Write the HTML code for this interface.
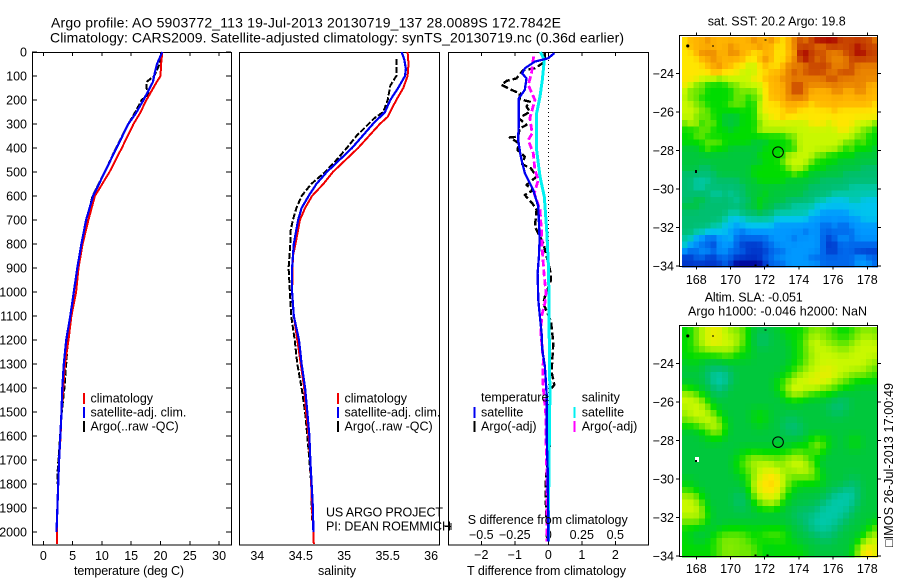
<!DOCTYPE html>
<html lang="en">
<head>
<meta charset="utf-8">
<title>Argo profile</title>
<style>
html,body{margin:0;padding:0;background:#fff;}
svg{display:block;}
text{font-family:"Liberation Sans",sans-serif;font-size:12.5px;fill:#000;}
</style>
</head>
<body>
<svg id="chart" xmlns="http://www.w3.org/2000/svg" width="900" height="580" viewBox="0 0 900 580"></svg>
<script>
// ---- profile data ----
const depthTicks = [0,100,200,300,400,500,600,700,800,900,1000,1100,1200,1300,1400,1500,1600,1700,1800,1900,2000];
const tempTicks = [0,5,10,15,20,25,30];
const salTicks = [34,34.5,35,35.5,36];
const salTickLabels = ["34","34.5","35","35.5","36"];
const tDiffTicks = [-2,-1,0,1,2];
const tDiffLabels = ["−2","−1","0","1","2"];
const sDiffTicks = [-0.5,-0.25,0,0.25,0.5];
const sDiffLabels = ["−0.5","−0.25","0","0.25","0.5"];

const tempClimDepth = [0,50,100,125,200,255,300,400,500,600,700,800,900,1000,1100,1200,1300,1400,1500,1600,1700,1800,1900,2000,2050];
const tempClim = [20.3,20.1,20,19.35,17.6,16.5,15.4,13.4,11.3,8.8,7.7,6.7,6.0,5.6,4.8,4.3,3.7,3.4,3.1,2.95,2.7,2.55,2.4,2.3,2.3];
const tempSatDepth = [0,50,100,125,200,255,300,400,500,600,700,800,900,1000,1100,1200,1300,1400,1500,1600,1700,1800,1900,2000];
const tempSat = [20.3,19.4,18.9,18.7,17.1,15.8,14.5,12.5,10.5,8.5,7.3,6.5,5.8,5.2,4.6,3.9,3.5,3.25,3.1,2.9,2.7,2.55,2.4,2.25];
const tempArgoDepth = [20,60,100,125,150,175,200,250,300,400,500,600,700,800,900,1000,1100,1200,1300,1400,1500,1760,1800];
const tempArgo = [20,19.7,18.9,17.6,17.6,18,16.8,15.7,14.5,12.4,10.5,8.4,7.4,6.5,5.8,5.6,4.8,4.2,3.9,3.6,3.15,2.4,2.4];

const salClimDepth = [0,50,100,150,200,270,300,400,500,550,600,650,700,800,850,1000,1100,1200,1300,1400,1500,1600,1700,1800,1900,2000,2050];
const salClim = [35.73,35.74,35.73,35.68,35.6,35.5,35.41,35.16,34.87,34.76,34.63,34.55,34.49,34.44,34.41,34.4,34.42,34.46,34.5,34.54,34.56,34.59,34.61,34.62,34.63,34.645,34.65];
const salSatDepth = [0,30,70,100,150,200,250,300,400,500,550,600,650,700,800,900,1000,1100,1200,1300,1400,1500,1600,1700,1800,1900,2000];
const salSat = [35.66,35.69,35.71,35.7,35.62,35.53,35.47,35.33,35.09,34.8,34.68,34.59,34.51,34.47,34.42,34.4,34.4,34.42,34.48,34.51,34.55,34.575,34.6,34.61,34.625,34.64,34.645];
const salArgoDepth = [30,60,100,140,200,250,275,300,350,400,450,500,550,600,650,700,750,800,900,1000,1100,1200,1300,1400,1500,1600,1700,1800,1950];
const salArgo = [35.6,35.6,35.6,35.53,35.5,35.45,35.35,35.28,35.14,35.03,34.91,34.78,34.62,34.51,34.45,34.41,34.38,34.38,34.36,34.375,34.39,34.43,34.46,34.51,34.55,34.575,34.6,34.62,34.63];

const dTSatDepth = [5,26,40,68,89,110,158,193,297,367,436,505,575,644,783,853,922,1033,1102,1172,1241,1311,1422,1589,1728,1978,2040];
const dTSat = [0.18,0,-0.4,-0.7,-0.78,-0.65,-0.7,-0.88,-0.88,-0.9,-0.82,-0.7,-0.45,-0.3,-0.26,-0.28,-0.32,-0.3,-0.25,-0.2,-0.18,-0.1,-0.05,-0.05,-0.02,0,0];
const dTArgoDepth = [5,40,68,75,110,120,137,158,172,197,207,228,249,276,304,318,353,356,380,408,436,467,485,519,554,575,596,630,658,728,769,797,908,950,1019,1047,1123,1213,1283,1332,1387,1408,1630,1783,1866,1908,1950];
const dTArgo = [-0.1,-0.1,-0.4,-0.75,-0.95,-1.24,-1.4,-1.1,-0.85,-0.85,-0.55,-0.65,-0.55,-0.88,-0.65,-0.85,-0.9,-1.15,-0.88,-0.92,-0.7,-0.78,-0.52,-0.35,-0.65,-0.45,-0.7,-0.48,-0.35,-0.4,-0.25,-0.15,0.05,0.08,-0.1,-0.15,0.08,0.15,0.12,0.1,0.18,0.05,0.05,-0.08,-0.08,-0.06,-0.06];
const dSSatDepth = [0,33,117,186,256,408,519,603,742,880,1061,1172,1422,1728,1978,2040];
const dSSat = [-0.06,-0.03,-0.045,-0.062,-0.087,-0.087,-0.062,-0.03,-0.012,0,0.007,0.007,0.012,0.005,0,0];
const dSArgoDepth = [19,89,137,200,276,339,367,422,492,533,589,658,755,825,922,1005,1047,1102,1172,1283,1346,1401,1519,1630,1728,1980,2040];
const dSArgo = [-0.11,-0.125,-0.15,-0.1,-0.137,-0.12,-0.15,-0.112,-0.1,-0.075,-0.105,-0.062,-0.05,-0.045,-0.032,-0.017,-0.025,-0.05,-0.055,-0.037,-0.042,-0.037,-0.017,-0.017,-0.012,-0.012,-0.012];

// ---- map data (colour level per grid cell, 0 = coldest/lowest, 15 = warmest/highest) ----
const mapLonTicks = [168,170,172,174,176,178];
const sstLatTicks = [-24,-26,-28,-30,-32,-34];
const sstLevels = [
[11,12,12,12,13,12,12,12,12,12,12,12,13,12,12,13,12,11,12,13,14,13,14,15,15,15,15,14,14,14,14,14,14,13],
[11,12,12,12,12,12,12,12,13,12,12,12,12,13,12,12,11,11,12,13,14,14,14,13,13,14,14,14,14,14,15,14,14,14],
[11,11,12,13,13,13,12,12,13,13,12,12,11,11,12,12,11,11,12,12,15,15,14,14,14,13,13,13,14,14,15,15,14,14],
[11,11,11,12,12,13,12,12,12,12,12,11,11,12,13,12,11,11,12,13,14,15,14,13,14,13,13,13,13,14,14,14,14,14],
[11,11,11,11,12,12,13,12,12,11,11,10,10,11,12,11,11,12,13,13,13,13,14,14,14,14,13,13,13,14,13,13,13,13],
[11,11,11,11,11,12,12,11,11,11,10,10,10,11,11,12,12,12,13,14,13,14,14,14,14,13,13,14,14,14,13,13,13,13],
[11,11,11,10,10,10,9,10,10,10,10,10,11,11,12,12,12,13,13,13,13,13,13,13,13,14,14,13,13,13,13,13,13,13],
[11,10,9,9,8,8,8,8,9,9,10,10,10,10,11,12,12,12,13,14,14,13,13,13,13,13,13,13,13,13,13,13,12,12],
[10,9,9,9,8,8,8,8,8,9,9,9,9,10,11,12,12,12,13,14,14,13,12,12,12,12,13,13,12,12,13,13,12,12],
[10,9,9,8,8,8,8,8,8,9,9,8,9,9,11,12,12,12,13,13,13,13,12,12,12,12,12,12,12,12,12,12,12,12],
[10,10,9,9,8,8,8,8,9,9,9,8,8,10,11,11,11,12,12,12,12,12,11,12,12,12,12,12,12,12,12,12,12,11],
[10,10,10,9,9,8,8,8,8,8,8,8,8,10,11,11,11,11,12,12,11,11,11,11,11,11,12,11,11,11,11,11,11,11],
[10,10,9,9,9,8,8,7,7,7,8,8,8,10,10,11,11,12,11,11,11,11,11,11,11,11,11,11,11,11,11,11,11,11],
[9,10,10,8,9,9,8,7,7,7,8,8,8,9,10,10,10,10,10,10,10,10,11,11,11,10,11,11,11,11,10,10,10,9],
[8,8,8,9,9,8,8,8,7,8,8,8,8,10,10,10,10,10,10,10,10,10,10,10,10,10,10,11,11,10,10,9,9,8],
[8,8,9,9,8,8,8,8,8,8,8,8,8,8,8,8,8,8,9,9,10,10,10,10,10,10,10,10,10,10,9,9,8,8],
[8,8,8,8,9,9,9,8,8,8,8,8,7,7,7,8,8,8,8,9,10,10,10,10,10,10,10,10,9,9,8,9,8,8],
[7,7,7,8,9,8,8,8,7,7,7,7,7,7,8,8,8,8,8,8,10,10,10,10,10,10,10,9,8,9,8,8,8,7],
[7,7,7,7,7,7,7,7,7,7,7,7,7,8,8,8,8,8,10,10,10,10,10,9,9,8,8,8,8,8,7,7,7,7],
[7,7,7,7,7,7,7,7,7,7,7,7,7,7,8,8,8,9,10,10,10,10,9,8,8,8,8,7,7,7,7,7,7,7],
[7,7,7,6,6,7,7,7,7,7,7,7,8,8,8,8,8,8,9,10,10,9,8,8,8,7,7,7,7,7,7,6,6,6],
[6,6,6,6,6,6,7,7,7,7,7,7,8,8,8,8,8,8,8,9,8,8,7,7,7,7,7,7,6,6,6,6,6,6],
[6,6,5,5,5,6,6,6,6,6,7,7,7,8,8,8,8,8,7,7,7,7,7,7,6,6,6,6,6,6,6,6,6,6],
[6,6,5,5,6,6,6,6,6,6,6,7,7,7,7,7,7,7,7,7,7,7,6,6,6,6,6,6,6,5,5,5,5,5],
[6,6,6,6,6,5,5,6,5,6,6,7,7,7,8,7,7,7,7,7,7,6,6,6,6,6,5,5,5,5,5,5,5,5],
[6,6,7,7,6,6,6,6,6,5,6,6,7,8,7,7,7,7,6,6,6,6,6,5,5,4,4,4,4,5,5,4,4,4],
[7,7,7,6,6,6,6,6,6,6,6,7,7,8,7,7,6,6,6,5,5,5,5,4,4,4,4,4,4,4,4,4,4,4],
[6,6,6,6,6,6,6,6,5,5,6,6,6,7,6,6,5,5,5,5,5,5,4,4,3,3,3,3,3,4,4,4,4,4],
[6,6,6,6,6,6,6,5,4,4,4,5,5,5,5,5,4,4,4,4,4,4,3,3,3,3,3,3,3,3,3,4,4,4],
[6,6,6,6,6,5,5,4,4,3,4,4,4,4,4,4,3,3,3,3,3,3,3,3,2,2,3,2,2,3,3,3,3,3],
[6,6,5,5,4,4,4,4,3,3,2,3,3,3,3,3,3,3,3,3,3,2,3,3,2,2,2,2,2,2,3,3,3,3],
[5,5,3,3,2,2,3,3,4,2,2,2,2,2,2,3,3,3,3,2,3,3,3,3,2,1,2,3,3,2,3,3,3,3],
[5,3,3,2,2,1,3,3,3,2,1,1,1,1,2,2,3,3,3,3,3,3,3,3,2,1,1,2,2,2,2,2,2,2],
[3,2,2,3,3,2,3,3,2,2,2,1,1,1,1,2,2,2,3,3,3,3,3,3,2,1,1,2,2,2,1,1,1,1],
[1,1,2,2,1,1,2,2,2,1,1,1,1,1,2,2,3,3,3,3,3,3,2,2,2,2,2,2,2,2,3,3,2,2],
[1,1,1,1,1,1,1,2,1,0,0,0,0,0,1,2,2,2,3,3,3,3,3,3,2,2,2,2,2,2,3,3,3,2]
];
const slaLevels = [
[8,8,9,10,10,11,10,10,9,9,9,8,7,7,7,7,7,8,8,8,8,8,9,9,9,9,8,8,8,8,9,9,9,9],
[8,8,9,10,10,11,11,10,10,10,9,8,7,6,6,7,7,7,8,8,8,9,10,10,9,9,9,8,8,9,9,10,10,9],
[8,8,9,10,10,11,10,10,10,10,9,8,7,6,6,7,7,7,7,8,8,9,10,10,10,9,9,9,9,9,10,10,10,10],
[8,8,9,9,10,10,10,10,10,9,8,8,7,7,7,7,7,7,7,8,8,9,10,10,10,10,10,9,9,10,10,10,10,10],
[8,8,8,8,8,8,8,9,9,8,8,8,7,7,7,7,7,7,7,8,8,9,9,10,10,10,10,10,10,10,10,10,10,10],
[7,8,8,7,7,7,7,7,7,7,7,7,7,7,7,7,7,7,7,8,8,9,10,10,10,10,10,10,10,10,10,10,10,9],
[7,7,7,7,6,6,6,6,7,7,7,7,7,7,7,7,7,7,8,8,9,9,10,10,10,11,10,10,10,10,10,10,9,9],
[7,7,7,7,6,5,5,5,6,7,7,7,7,7,7,7,7,8,8,9,10,10,10,10,11,11,10,10,10,9,9,9,9,8],
[7,7,7,7,6,5,5,5,6,7,7,7,7,7,7,7,8,8,9,10,10,10,11,11,10,10,10,9,9,8,8,8,8,8],
[8,8,7,7,7,6,5,6,7,7,7,7,7,7,7,7,8,9,10,11,10,10,10,10,10,9,9,8,8,8,7,7,7,7],
[10,10,9,8,7,7,6,7,7,7,7,7,7,7,7,7,7,8,9,10,10,9,9,8,8,8,8,7,7,7,7,7,7,7],
[10,10,10,10,8,7,7,7,7,7,7,7,7,7,7,7,7,7,8,8,8,7,7,7,7,7,6,6,6,7,7,7,7,7],
[10,10,10,10,9,8,7,7,7,7,7,7,7,7,7,7,7,7,7,7,7,7,7,7,7,6,6,6,6,7,7,7,7,7],
[9,10,10,10,10,9,8,7,7,7,7,7,8,8,8,7,7,7,7,7,7,7,7,7,7,7,6,6,7,7,7,7,7,7],
[9,10,10,10,10,10,9,8,7,7,7,7,8,8,8,7,7,7,6,6,7,7,7,7,7,7,7,7,7,7,7,7,7,7],
[8,8,8,9,10,10,10,8,7,7,7,7,7,8,7,7,7,6,6,6,6,7,7,7,7,7,7,7,7,7,7,7,7,7],
[7,7,7,8,8,9,10,8,7,7,7,7,7,7,7,7,7,7,6,6,6,7,7,7,7,7,7,7,7,7,7,7,7,7],
[7,7,7,7,8,8,8,7,7,7,7,7,7,7,7,7,7,7,7,7,7,7,8,9,8,8,7,7,7,8,8,7,7,7],
[7,7,7,7,7,7,7,7,7,7,7,7,7,7,7,7,7,7,7,8,8,8,9,10,9,8,7,7,7,8,8,7,7,7],
[7,7,7,7,7,7,7,7,7,7,8,8,8,8,8,8,8,8,8,8,9,8,8,9,8,7,7,7,7,7,7,7,7,7],
[7,7,7,7,7,7,7,7,7,8,8,9,10,9,9,9,9,9,10,10,10,9,8,8,7,7,7,7,7,7,7,7,7,7],
[7,7,7,7,7,7,7,7,7,8,9,9,10,10,10,10,9,9,10,10,10,10,9,8,7,7,7,7,7,7,7,7,7,7],
[7,7,7,7,7,7,7,7,7,8,8,9,9,10,10,11,10,10,9,10,10,10,10,8,7,7,7,7,7,7,7,7,7,7],
[7,7,7,7,7,7,7,7,7,7,8,8,10,10,11,11,11,10,9,9,9,9,9,9,8,7,7,7,7,6,7,7,7,7],
[8,8,7,7,7,7,7,7,7,7,7,8,10,11,11,12,11,10,9,8,8,8,8,8,7,7,7,7,7,6,6,7,7,7],
[8,8,8,7,7,7,7,7,7,7,7,8,10,11,11,11,11,10,8,8,7,7,7,7,7,7,6,6,5,5,6,7,7,7],
[10,10,9,8,7,7,7,7,7,6,6,7,9,10,10,11,10,9,8,7,7,7,7,7,7,6,5,5,5,5,6,7,7,7],
[10,10,10,9,7,7,7,7,7,6,6,7,8,9,10,10,10,8,7,7,7,7,7,6,6,5,5,5,5,5,6,7,7,7],
[10,10,10,9,8,7,7,7,7,7,6,7,7,8,8,8,8,7,7,7,6,6,6,6,5,5,5,5,5,6,7,7,7,7],
[10,10,10,10,8,7,7,7,7,7,7,7,7,7,7,7,7,7,7,6,6,6,6,5,5,5,5,5,6,6,7,7,7,7],
[9,9,9,9,8,7,7,7,7,7,7,7,7,7,7,7,7,7,7,7,6,6,5,5,5,5,5,6,6,7,7,7,7,8],
[8,8,8,7,7,7,7,8,8,8,8,8,8,8,8,8,8,8,7,7,7,6,6,5,5,5,6,6,7,7,7,7,8,9],
[8,7,7,7,7,8,9,9,9,9,9,8,8,8,9,9,9,9,8,7,7,7,6,6,6,6,6,7,7,7,7,8,9,10],
[8,8,7,7,8,8,9,9,9,9,9,9,8,8,8,8,8,8,8,7,7,7,7,7,6,6,7,7,7,7,8,9,10,10],
[8,8,8,8,8,8,9,9,10,9,9,9,9,8,8,7,8,8,8,8,8,7,7,7,7,7,7,7,7,7,9,11,11,10],
[8,8,8,8,8,8,9,9,9,9,9,9,9,8,8,8,8,8,8,8,8,8,7,7,7,7,7,7,7,8,9,11,12,10]
];
const levelColors = ["#000096","#0038cc","#0068ec","#0098ff","#00c4ee","#00c8a8","#00bf70","#00c83c","#00dc00","#70e800","#c8f800","#ffe600","#ffb400","#ea8400","#c84400","#a80000"];

// ---- axis functions ----
const svg = document.getElementById('chart');
const NS = 'http://www.w3.org/2000/svg';
const yD = d => 52 + d * 0.24;
const xT = v => 43.3 + v * 5.86;
const xS = v => 257.3 + (v - 34) * 86.9;
const xDT = v => 548.3 + v * 33.5;
const xDS = v => 548.3 + v * 134;
const lonX = lon => 696.3 + (lon - 168) * 17.1;
const mapTop = {sst: 73.3, sla: 363.3};
const latY = (lat, map) => mapTop[map] + (-24 - lat) * 19.27;

function add(tag, attrs, name, parent) {
  const el = document.createElementNS(NS, tag);
  for (const k in attrs) el.setAttribute(k, attrs[k]);
  
  
  (parent || svg).appendChild(el);
  return el;
}
function label(x, y, str, name, opts) {
  const a = Object.assign({x: x, y: y}, opts || {});
  const el = add('text', a, name);
  el.textContent = str;
  return el;
}
function seg(x1, y1, x2, y2, name, w, color, parent) {
  return add('line', {x1: x1, y1: y1, x2: x2, y2: y2, stroke: color || '#000', 'stroke-width': w || 1, 'shape-rendering': 'crispEdges'}, name, parent);
}
function series(depths, values, xf, color, width, dash, name) {
  const pts = depths.map((d, i) => xf(values[i]).toFixed(1) + ',' + yD(d).toFixed(1)).join(' ');
  const a = {points: pts, fill: 'none', stroke: color, 'stroke-width': width, 'stroke-linejoin': 'round', 'shape-rendering': 'crispEdges'};
  if (dash) a['stroke-dasharray'] = dash;
  return add('polyline', a, name);
}
function frame(x, y, w, h, name) {
  add('rect', {x: x, y: y, width: w, height: h, fill: 'none', stroke: '#000', 'stroke-width': 1.2, 'shape-rendering': 'crispEdges'}, name);
}

// ---- titles ----
label(51, 27.5, 'Argo profile: AO 5903772_113 19-Jul-2013 20130719_137 28.0089S 172.7842E', 'plot-title-line-1', {textLength: 510, style: 'font-size:14px'});
label(50, 42.5, 'Climatology: CARS2009. Satellite-adjusted climatology: synTS_20130719.nc (0.36d earlier)', 'plot-title-line-2', {textLength: 574, style: 'font-size:14px'});

// ---- panel 1: temperature ----
frame(32.5, 52.5, 199, 492.5, 'temperature-panel-frame');
depthTicks.forEach(d => {
  seg(32, yD(d), 37, yD(d), 'depth-tick-left');
  seg(226, yD(d), 231, yD(d), 'depth-tick-right');
  label(27, yD(d) + 4.5, String(d), 'depth-tick-label', {'text-anchor': 'end'});
});
tempTicks.forEach(v => {
  seg(xT(v), 52, xT(v), 56, 'temperature-tick-top');
  seg(xT(v), 541, xT(v), 545, 'temperature-tick-bottom');
  label(xT(v), 560, String(v), 'temperature-tick-label', {'text-anchor': 'middle'});
});
label(74, 575, 'temperature (deg C)', 'temperature-axis-title', {textLength: 110});
series(tempArgoDepth, tempArgo, xT, '#000', 2, '6 2', 'temperature-argo-line');
series(tempClimDepth, tempClim, xT, '#f00000', 2, '', 'temperature-climatology-line');
series(tempSatDepth, tempSat, xT, '#0000f0', 2.2, '', 'temperature-satellite-line');

// ---- panel 2: salinity ----
frame(239.5, 52.5, 200, 492.5, 'salinity-panel-frame');
salTicks.forEach((v, i) => {
  label(xS(v), 560, salTickLabels[i], 'salinity-tick-label', {'text-anchor': 'middle'});
});
label(318, 575, 'salinity', 'salinity-axis-title', {textLength: 38});
series(salArgoDepth, salArgo, xS, '#000', 2, '6 2', 'salinity-argo-line');
series(salClimDepth, salClim, xS, '#f00000', 2, '', 'salinity-climatology-line');
series(salSatDepth, salSat, xS, '#0000f0', 2.2, '', 'salinity-satellite-line');
label(326, 516.7, 'US ARGO PROJECT', 'project-credit', {textLength: 117});
label(326, 530.7, 'PI: DEAN ROEMMICH', 'investigator-credit', {textLength: 125});

// ---- panel 3: differences ----
frame(448.5, 52.5, 200, 492.5, 'difference-panel-frame');
tDiffTicks.forEach((v, i) => {
  seg(xDT(v), 52, xDT(v), 56, 'temperature-difference-tick-top');
  seg(xDT(v), 541, xDT(v), 545, 'temperature-difference-tick-bottom');
  label(xDT(v), 559, tDiffLabels[i], 'temperature-difference-tick-label', {'text-anchor': 'middle'});
});
sDiffTicks.forEach((v, i) => {
  label(xDS(v), 539, sDiffLabels[i], 'salinity-difference-tick-label', {'text-anchor': 'middle'});
});
add('line', {x1: xDT(0), y1: 52, x2: xDT(0), y2: 545, stroke: '#000', 'stroke-width': 1, 'stroke-dasharray': '1 3', 'shape-rendering': 'crispEdges'}, 'zero-difference-line');
seg(445, 526.7, 451, 526.7, 'difference-axis-marker');
seg(451, 523, 451, 530, 'difference-axis-marker-cap');
series(dTArgoDepth, dTArgo, xDT, '#000', 2.4, '7 3', 'temperature-difference-argo-line');
series(dSSatDepth, dSSat, xDS, '#00f0f0', 3, '', 'salinity-difference-satellite-line');
series(dSArgoDepth, dSArgo, xDS, '#ff00ff', 2.8, '7 3', 'salinity-difference-argo-line');
series(dTSatDepth, dTSat, xDT, '#0000f0', 2.3, '', 'temperature-difference-satellite-line');
label(467.7, 524, 'S difference from climatology', 'salinity-difference-axis-title', {textLength: 160});
label(467, 575, 'T difference from climatology', 'temperature-difference-axis-title', {textLength: 159});

// ---- legends ----
function legendEntry(xSeg, xText, top, color, str, name) {
  add('rect', {x: xSeg, y: top, width: 2, height: 11, fill: color, 'shape-rendering': 'crispEdges'}, name + '-swatch');
  label(xText, top + 9.7, str, name + '-label');
}
legendEntry(83, 90.5, 393, '#f00000', 'climatology', 'temperature-legend-climatology');
legendEntry(83, 90.5, 407, '#0000f0', 'satellite-adj. clim.', 'temperature-legend-satellite');
legendEntry(83, 90.5, 421, '#000', 'Argo(..raw -QC)', 'temperature-legend-argo');
legendEntry(337, 344.5, 393, '#f00000', 'climatology', 'salinity-legend-climatology');
legendEntry(337, 344.5, 407, '#0000f0', 'satellite-adj. clim.', 'salinity-legend-satellite');
legendEntry(337, 344.5, 421, '#000', 'Argo(..raw -QC)', 'salinity-legend-argo');
label(481, 401.7, 'temperature', 'difference-legend-temperature-heading');
legendEntry(473.5, 481, 407, '#0000f0', 'satellite', 'difference-legend-temperature-satellite');
legendEntry(473.5, 481, 421, '#000', 'Argo(-adj)', 'difference-legend-temperature-argo');
label(581.7, 401.7, 'salinity', 'difference-legend-salinity-heading');
legendEntry(573.5, 581.7, 407, '#00f0f0', 'satellite', 'difference-legend-salinity-satellite');
legendEntry(573.5, 581.7, 421, '#ff00ff', 'Argo(-adj)', 'difference-legend-salinity-argo');

// ---- maps ----
const cellLon = 0.3366;
const cellLat = 0.3315;
const firstLon = 167.16;
const firstLat = -22.12;
// continuous colour scale: fractional levels blend neighbouring palette entries
function levelColor(v) {
  const t = Math.max(0, Math.min(15, v));
  const i = Math.min(14, Math.floor(t));
  const f = t - i;
  const parse = h => [1, 3, 5].map(p => parseInt(h.substr(p, 2), 16));
  const a = parse(levelColors[i]);
  const b = parse(levelColors[i + 1]);
  return 'rgb(' + a.map((c, k) => Math.round(c + (b[k] - c) * f)).join(',') + ')';
}
// the plotted fields are gridded smoothly, so soften the hand-read levels
function smoothed(levels, side) {
  return levels.map((row, r) => row.map((v, c) => {
    let sum = 0, wt = 0;
    for (let dr = -1; dr <= 1; dr++) for (let dc = -1; dc <= 1; dc++) {
      const rowN = levels[r + dr];
      if (!rowN || rowN[c + dc] === undefined) continue;
      const w = (dr === 0 && dc === 0) ? 1 : (dr === 0 || dc === 0 ? side : side * side);
      sum += rowN[c + dc] * w;
      wt += w;
    }
    return sum / wt;
  }));
}
function drawMap(levels, map, frameTop, frameBottom, labelBase, side) {
  const g = add('g', {'shape-rendering': 'crispEdges'}, map + '-heatmap');
  smoothed(levels, side).forEach((row, r) => {
    row.forEach((lvl, c) => {
      const x0 = lonX(firstLon + c * cellLon);
      const y0 = latY(firstLat - r * cellLat, map);
      const cell = document.createElementNS(NS, 'rect');
      cell.setAttribute('x', x0.toFixed(2));
      cell.setAttribute('y', y0.toFixed(2));
      cell.setAttribute('width', (cellLon * 17.1 + 0.4).toFixed(2));
      cell.setAttribute('height', (cellLat * 19.27 + 0.4).toFixed(2));
      cell.setAttribute('fill', levelColor(lvl));
      
      
      g.appendChild(cell);
    });
  });
  frame(679.5, frameTop, 198, frameBottom - frameTop, map + '-map-frame');
  mapLonTicks.forEach(lon => {
    seg(lonX(lon), frameTop - 3, lonX(lon), frameTop, map + '-longitude-tick-top');
    seg(lonX(lon), frameBottom, lonX(lon), frameBottom + 3, map + '-longitude-tick-bottom');
    label(lonX(lon), labelBase, String(lon), map + '-longitude-label', {'text-anchor': 'middle'});
  });
  sstLatTicks.forEach(lat => {
    const y = latY(lat, map);
    seg(676, y, 679.5, y, map + '-latitude-tick-left');
    seg(877.5, y, 881, y, map + '-latitude-tick-right');
    label(674, y + 4.5, '−' + Math.abs(lat), map + '-latitude-label', {'text-anchor': 'end'});
  });
  add('circle', {cx: lonX(172.78), cy: latY(-28.09, map), r: 5.3, fill: 'none', stroke: '#000', 'stroke-width': 1}, map + '-profile-location');
  add('circle', {cx: lonX(167.5), cy: latY(-22.58, map), r: 1.6, fill: '#000'}, map + '-island-marker');
  add('rect', {x: lonX(168.95), y: latY(-22.58, map) - 1, width: 1, height: 2, fill: '#000', 'shape-rendering': 'crispEdges'}, map + '-islet-marker-a');
  add('rect', {x: lonX(172), y: latY(-22.25, map), width: 2, height: 1, fill: '#000', 'shape-rendering': 'crispEdges'}, map + '-islet-marker-b');
  add('rect', {x: lonX(171.4), y: frameBottom - 2, width: 2, height: 2, fill: '#000', 'shape-rendering': 'crispEdges'}, map + '-islet-marker-c');
  add('rect', {x: lonX(172.1), y: frameBottom - 2, width: 2, height: 2, fill: '#000', 'shape-rendering': 'crispEdges'}, map + '-islet-marker-d');
}
drawMap(sstLevels, 'sst', 35.5, 266.5, 284, 0.22);
drawMap(slaLevels, 'sla', 325.5, 556.5, 573, 0.6);
add('rect', {x: 695, y: 457, width: 4, height: 5, fill: '#fff', 'shape-rendering': 'crispEdges'}, 'sla-land-gap');
add('rect', {x: 695, y: 460, width: 2, height: 2, fill: '#000', 'shape-rendering': 'crispEdges'}, 'sla-land-marker');
add('rect', {x: 695, y: 170, width: 2, height: 3, fill: '#000', 'shape-rendering': 'crispEdges'}, 'sst-land-marker');

label(707.7, 25.7, 'sat. SST: 20.2  Argo: 19.8', 'sst-map-title', {textLength: 138, 'xml:space': 'preserve'});
label(704.7, 301.7, 'Altim. SLA: -0.051', 'sla-map-title', {textLength: 98});
label(688, 315.7, 'Argo h1000: -0.046 h2000: NaN', 'argo-height-title', {textLength: 179});
label(0, 0, '□IMOS 26-Jul-2013 17:00:49', 'timestamp-label', {transform: 'translate(893,547) rotate(-90)', textLength: 164});
</script>
</body>
</html>
